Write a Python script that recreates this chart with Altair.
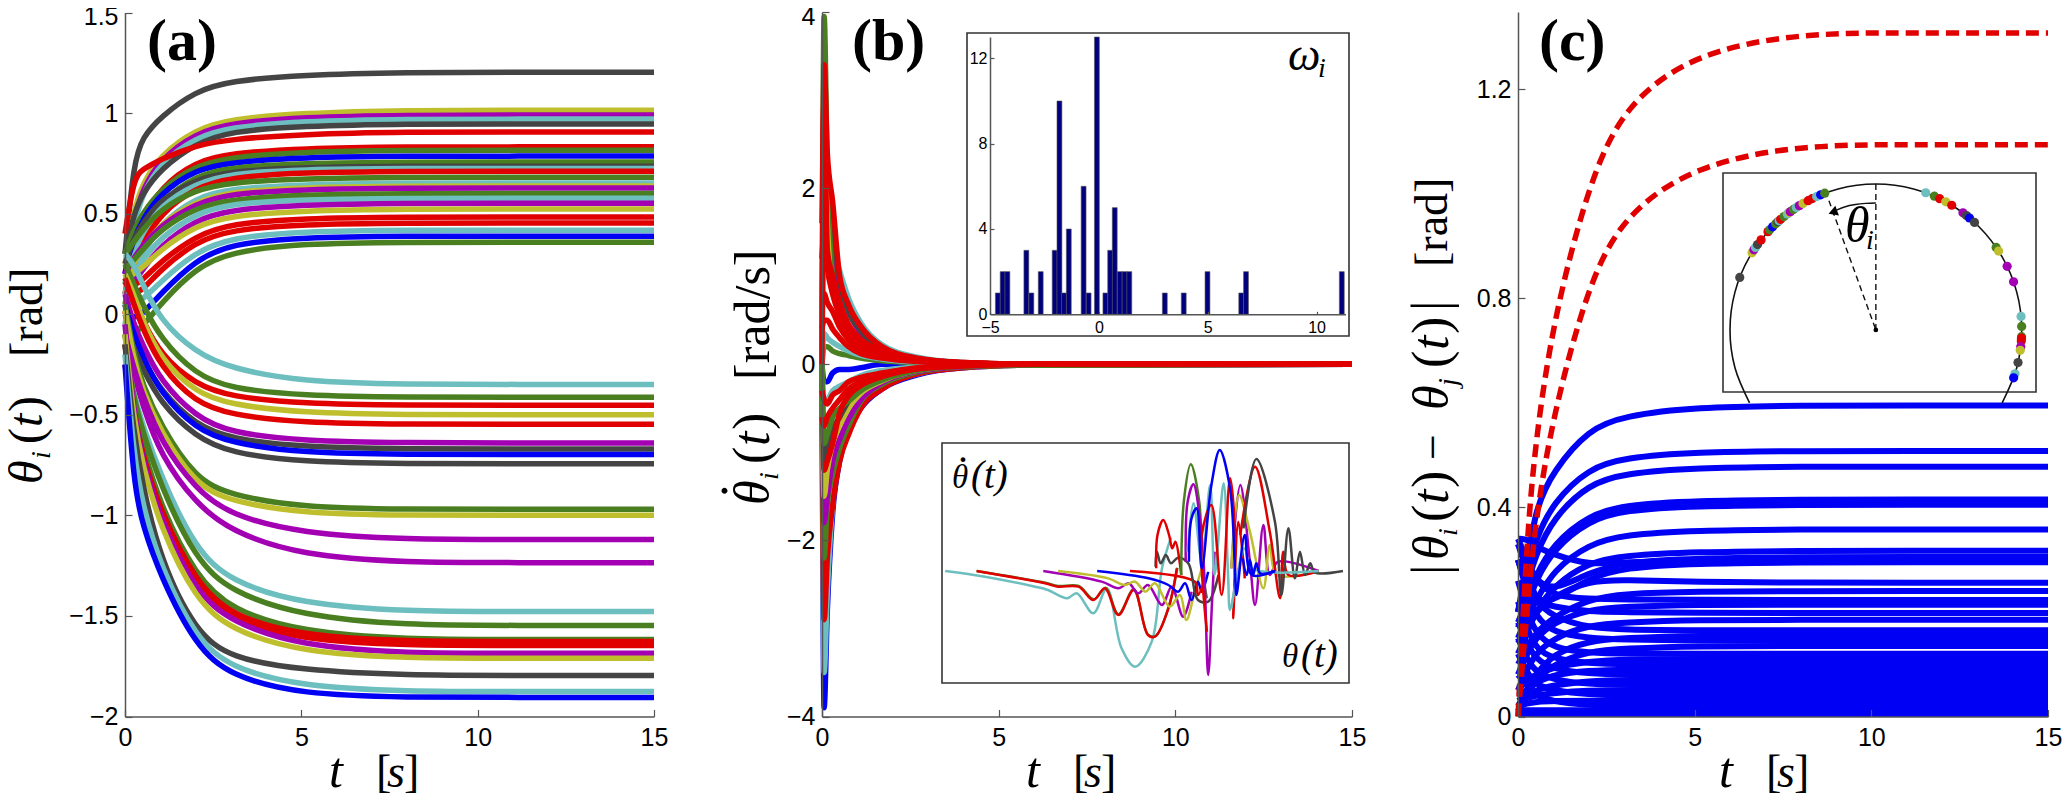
import altair as alt
import numpy as np
import pandas as pd

W, H, M = 2056, 792, 8
SANS, SERIF = "Liberation Sans", "Liberation Serif"
COLORS = {"b": "#0000F5", "g": "#4A7F21", "r": "#E00000", "t": "#6CBEBF",
          "p": "#A300B4", "o": "#BFBF2E", "k": "#444444"}
CDOM, CRNG = list(COLORS), list(COLORS.values())

# ---------- panel (a): theta_i(t); the last value is the settled one (from about t = 8)
T_A = [0, .25, .5, 1, 2, 3, 5, 8, 11, 15]
A_COL = list("koptkrrgbgktrgtopgtporrtbg" "tgrorpkbkgoppt" "ggrrpokt" "b")
A_ROWS = [
 [.30,.76,.88,.98,1.11,1.16,1.19,1.203],
 [.25,.52,.65,.79,.92,.97,1.0,1.014],
 [.2,.48,.62,.77,.90,.95,.98,.99],
 [.15,.45,.6,.75,.88,.93,.96,.97],
 [.3,.5,.6,.72,.85,.91,.935,.946],
 [.4,.68,.72,.77,.84,.87,.895,.906],
 [.1,.35,.47,.63,.76,.8,.825,.832],
 [.3,.42,.5,.62,.74,.78,.808,.815],
 [.2,.38,.47,.6,.72,.755,.78,.786],
 [.05,.28,.4,.56,.69,.73,.75,.757],
 [.25,.38,.45,.57,.67,.71,.73,.736],
 [.1,.3,.4,.54,.65,.7,.72,.725],
 [0,.22,.35,.5,.63,.68,.705,.711],
 [.3,.36,.42,.52,.62,.655,.675,.681],
 [-.05,.18,.3,.45,.58,.625,.645,.652],
 [.15,.26,.33,.45,.56,.61,.63,.637],
 [.2,.28,.34,.44,.55,.6,.62,.627],
 [.22,.27,.32,.42,.53,.57,.595,.6],
 [.1,.2,.27,.38,.5,.55,.57,.577],
 [.08,.16,.22,.34,.47,.52,.545,.552],
 [.18,.2,.23,.32,.44,.49,.515,.523],
 [.15,.14,.17,.26,.39,.45,.477,.483],
 [.12,.1,.12,.22,.36,.42,.447,.453],
 [.1,.06,.07,.16,.31,.38,.412,.418],
 [0,-.02,.0,.1,.27,.35,.382,.388],
 [-.13,-.1,-.06,.05,.23,.31,.352,.358],
 [.3,.25,.15,-.03,-.19,-.27,-.335,-.349],
 [.25,.15,.05,-.12,-.3,-.37,-.405,-.413],
 [.16,.08,-.03,-.2,-.35,-.41,-.445,-.453],
 [.2,.1,-.03,-.22,-.39,-.45,-.49,-.5],
 [.18,.05,-.07,-.26,-.44,-.5,-.54,-.547],
 [.1,-.05,-.15,-.33,-.51,-.59,-.63,-.64],
 [.0,-.12,-.22,-.38,-.55,-.62,-.66,-.67],
 [.05,-.1,-.21,-.39,-.57,-.64,-.69,-.697],
 [-.05,-.17,-.27,-.44,-.61,-.69,-.735,-.743],
 [.05,-.2,-.35,-.55,-.82,-.9,-.96,-.97],
 [.02,-.23,-.38,-.58,-.85,-.93,-.99,-1.0],
 [-.1,-.27,-.4,-.63,-.87,-1.0,-1.09,-1.12],
 [-.1,-.3,-.45,-.7,-.94,-1.08,-1.2,-1.235],
 [-.2,-.4,-.55,-.8,-1.17,-1.33,-1.44,-1.478],
 [-.15,-.42,-.58,-.85,-1.22,-1.38,-1.5,-1.547],
 [-.1,-.47,-.66,-.95,-1.3,-1.47,-1.58,-1.617],
 [-.15,-.5,-.7,-.98,-1.33,-1.5,-1.6,-1.627],
 [-.25,-.55,-.74,-1.02,-1.36,-1.52,-1.62,-1.647],
 [-.05,-.5,-.72,-1.02,-1.38,-1.53,-1.65,-1.686],
 [-.1,-.53,-.75,-1.06,-1.42,-1.57,-1.68,-1.711],
 [-.15,-.6,-.85,-1.22,-1.58,-1.71,-1.77,-1.796],
 [-.2,-.7,-.95,-1.25,-1.61,-1.76,-1.85,-1.876],
 [-.25,-.85,-1.05,-1.3,-1.65,-1.8,-1.89,-1.905],
]

# ---------- panel (b): theta-dot_i(t)
T_B = [0,.06,.15,.3,.5,.75,1.1,1.7,2.7,4,6,15]
B_COL = list("tpkgobtrgpokbtgtgrrrrrrrr")
B_ROWS = [
 [0,2.2,1.8,1.35,1.06,.75,.47,.22,.08,.02,0,0],
 [0,2.9,1.9,1.2,.9,.6,.35,.16,.06,.015,0,0],
 [0,2.5,2.0,1.6,.95,.6,.38,.17,.06,.015,0,0],
 [0,3.95,2.2,1.0,.6,.42,.26,.12,.04,.01,0,0],
 [0,2.6,1.6,.8,.6,.4,.25,.12,.04,.01,0,0],
 [0,-3.9,-2.8,-1.7,-1.1,-.75,-.5,-.28,-.12,-.04,-.01,0],
 [0,-3.5,-2.6,-1.6,-1.05,-.72,-.47,-.26,-.11,-.03,-.01,0],
 [0,-2.9,-2.2,-1.6,-1.1,-.8,-.5,-.28,-.11,-.04,-.01,0],
 [0,-2.2,-1.6,-1.25,-.95,-.7,-.42,-.23,-.09,-.03,-.01,0],
 [0,-1.8,-1.5,-1.1,-.85,-.62,-.4,-.21,-.08,-.025,0,0],
 [0,-1.5,-1.2,-.9,-.7,-.5,-.33,-.19,-.07,-.02,0,0],
 [0,-1.2,-1.0,-.75,-.6,-.42,-.28,-.17,-.06,-.02,0,0],
 [0,-.2,-.2,-.1,-.06,-.06,-.04,.0,.0,0,0,0],
 [0,-.4,-.4,-.3,-.25,-.2,-.13,-.07,-.03,-.01,0,0],
 [0,.2,.2,.15,.12,.1,.07,.04,.02,.005,0,0],
 [0,.35,.3,.25,.2,.15,.1,.06,.025,.01,0,0],
 [0,-.9,-.8,-.6,-.5,-.42,-.3,-.18,-.07,-.02,0,0],
 [0,3.4,2.4,1.85,1.0,.68,.43,.2,.07,.02,0,0],
 [1.6,3.0,1.3,1.0,.7,.45,.28,.16,.06,.02,0,0],
 [1.2,1.5,1.1,.8,.55,.36,.22,.13,.05,.015,0,0],
 [-1.2,-1.2,-1.1,-.9,-.55,-.36,-.24,-.14,-.05,-.02,0,0],
 [.8,.8,.7,.6,.42,.28,.17,.1,.04,.012,0,0],
 [-.6,-.7,-.6,-.5,-.4,-.28,-.2,-.13,-.05,-.015,0,0],
 [.4,.5,.5,.4,.3,.2,.12,.07,.03,.01,0,0],
 [-.3,-.4,-.45,-.35,-.3,-.2,-.15,-.1,-.04,-.01,0,0],
]

# histogram inset
HIST_OMEGA = [-4.64,-4.42,-4.2,-3.33,-3.1,-2.67,-2.03,-1.81,-1.6,-1.38,-.7,-.47,-.09,
              .3,.52,.73,.96,1.18,1.4,3.03,3.9,4.99,6.54,6.76,11.16]
HIST_COUNT = [1,2,2,3,1,2,3,10,1,4,6,1,13,1,3,5,2,2,2,1,1,2,1,2,2]
HIST_HALF = .112

# phase-portrait inset
PHASE = [
 ("t",[-1.9,-1.59,-1.2,-1.1,-.95,-.875,-.745,-.64,-.525,-.42,-.29,-.21,-.14],
      [0,-.17,-.47,-.57,-.82,-.67,-1.27,-.52,-2.32,-2.87,-2.12,.08,1.0]),
 ("g",[-1.655,-1.12,-1.02,-.86,-.74,-.65,-.55,-.43,-.32,-.26,-.16,-.09],
      [0,-.35,-.45,-.45,-.85,-.5,-1.3,-.55,-1.9,-1.95,-1.1,.1]),
 ("r",[-1.655,-1.12,-1.02,-.86,-.745,-.655,-.55,-.43,-.32,-.265,-.16,-.095],
      [0,-.37,-.47,-.47,-.87,-.52,-1.32,-.57,-1.92,-1.97,-1.12,.08]),
 ("p",[-1.135,-.68,-.55,-.47,-.395,-.32,-.21,-.135,-.045,.02],
      [0,-.32,-.52,-.37,-.67,-.42,-1.02,-.47,-1.37,-.62]),
 ("o",[-1.02,-.63,-.5,-.42,-.34,-.265,-.15,-.07,-.02,.045,.1],
      [0,-.22,-.42,-.32,-.62,-.37,-1.07,-.72,-1.47,-.62,.08]),
 ("b",[-.715,-.315,-.16,-.085,-.03,.02,.07,.1,.15],
      [0,-.22,-.42,-.62,-.37,-.87,-.32,-.62,-.02]),
 ("r",[-.46,.045,.07,.125],[0,-.32,-.72,-.22]),
 ("k",[-.26,-.25,-.22,-.18,-.14,-.085,-.005,.07,.15,.23],
      [.13,.58,.23,.48,.23,.4,.23,-.87,-.92,-.12]),
 ("r",[-.255,-.245,-.2,-.155,-.13,-.105,-.06],[.08,1.08,1.53,1.08,.68,.88,-.12]),
 ("g",[-.06,-.04,.015,.08,.11,.14],[-.12,2.08,3.2,2.08,-.12,-.82]),
 ("p",[-.025,-.01,.035,.085,.12,.15,.18,.2],[.28,2.08,2.6,1.58,-.12,-3.12,-.92,.58]),
 ("t",[-.01,.035,.1,.165,.2,.27,.305,.32,.385],[.58,2.03,.28,2.58,-.12,2.63,-.12,-1.17,.08]),
 ("p",[.33,.4,.475,.515,.58,.63,.695,1.01],[.08,2.58,.28,-1.02,1.38,-.12,.28,0]),
 ("o",[.33,.39,.475,.58,.63,.685,1.01],[.08,2.28,1.18,-.52,.78,-.12,0]),
 ("r",[.14,.1,.175,.255,.32,.36,.345,.385,.435],[-1.82,1.08,1.98,-.72,2.78,1.08,-1.42,1.48,-.22]),
 ("r",[.4,.515,.63,.71,.735,.775,1.01],[1.08,3.13,1.18,-.82,.58,-.12,0]),
 ("k",[.425,.525,.67,.72,.775,.825,.865,.905,.945,.98,1.2],
      [1.28,3.36,1.48,-.72,1.28,-.22,.58,-.12,.23,-.04,0]),
 ("t",[.33,.435,.49,1.01],[-1.12,.68,.08,0]),
 ("b",[0,.02,.06,.1,.175,.24,.32,.36,.37,.435,.49,.67],
      [.28,1.58,1.88,.08,2.58,3.63,2.48,-.12,-.72,1.08,-.12,0]),
 ("b",[.42,.45,.475,.5,.525,.555,.67],[.38,-.12,.33,-.12,.23,-.07,0]),
]

# ---------- panel (c): |theta_i - theta_j|; the last value is the settled one
T_C = [0, .25, .5, 1, 2, 3, 5, 8, 11, 15]
C_RED = [
 [.0,.34,.53,.76,1.02,1.17,1.27,1.308],
 [.0,.2,.38,.58,.83,.96,1.055,1.094],
]
C_BLUE = [
 [.2,.29,.40,.47,.55,.575,.592,.595],
 [.2,.27,.34,.41,.475,.495,.506,.508],
 [.2,.25,.31,.38,.445,.465,.476,.478],
 [.18,.22,.27,.33,.385,.405,.413,.415],
 [.17,.21,.26,.32,.375,.395,.403,.405],
 [.15,.19,.22,.28,.33,.348,.356,.358],
 [.12,.16,.2,.25,.295,.308,.315,.317],
 [.34,.34,.325,.31,.29,.295,.30,.30],
 [.34,.3,.26,.24,.275,.295,.303,.305],
 [.3,.26,.22,.22,.265,.285,.293,.295],
 [.14,.17,.2,.23,.26,.262,.257,.256],
 [.1,.13,.16,.19,.225,.235,.239,.24],
 [.33,.3,.26,.23,.225,.224,.223,.223],
 [.08,.12,.15,.18,.205,.21,.214,.214],
 [.3,.25,.22,.21,.2,.2,.198,.198],
 [.05,.09,.12,.15,.175,.18,.185,.185],
 [.33,.28,.22,.19,.17,.166,.165,.165],
 [.02,.05,.08,.12,.145,.15,.155,.155],
 [.3,.24,.19,.16,.15,.147,.145,.145],
 [.01,.04,.07,.1,.125,.13,.135,.135],
 [.26,.2,.16,.13,.122,.12,.12,.12],
 [.05,.07,.08,.095,.105,.11,.11,.11],
 [.22,.17,.13,.11,.102,.1,.1,.1],
 [.04,.05,.065,.08,.088,.09,.09,.09],
 [.18,.14,.11,.09,.082,.08,.08,.08],
 [.03,.04,.05,.06,.068,.07,.07,.07],
 [.15,.11,.085,.07,.062,.06,.06,.06],
 [.03,.035,.04,.045,.05,.05,.05,.05],
 [.12,.085,.06,.05,.042,.04,.04,.04],
 [.02,.025,.028,.03,.03,.03,.03,.03],
 [.08,.06,.04,.028,.022,.02,.02,.02],
 [.012,.012,.012,.012,.012,.012,.012,.012],
 [.005,.005,.005,.005,.005,.005,.005,.005],
]

# circle inset: unit-circle outline (15 degree stops) and the guide lines
CIRC_X = [-.866,-.966,-1,-.966,-.866,-.707,-.5,-.259,0,.259,.5,.707,.866,.966,1,.966,.866]
CIRC_Y = [-.5,-.259,0,.259,.5,.707,.866,.966,1,.966,.866,.707,.5,.259,0,-.259,-.5]
ARC_X = [0,-.07,-.14,-.21,-.27]
ARC_Y = [.87,.867,.859,.844,.82]


def px(v):
    return v - M


def settled(rows):
    return [r + [r[-1], r[-1]] for r in rows]


def long_table(ts, rows, cols):
    out = []
    for i, (r, c) in enumerate(zip(rows, cols)):
        out += [{"id": i, "c": c, "t": a, "v": b, "o": k} for k, (a, b) in enumerate(zip(ts, r))]
    return pd.DataFrame(out)


def sx(dom, a, b):
    return alt.Scale(domain=dom, range=[px(a), px(b)], nice=False, zero=False)


def y_axis(x0, ticks, size=25, tick=7, gap=7, top=None, fmt=".1~f"):
    shift = {"condition": {"test": f"datum.value == {top}", "value": 4}, "value": 0} if top is not None else 0
    return alt.Axis(orient="right", offset=px(x0) - W, values=ticks, title=None, grid=False,
                    tickSize=tick, labelAlign="right", labelBaseline="middle",
                    labelPadding=-(tick + gap), labelFontSize=size, labelFont=SANS,
                    labelColor="#000000", domainColor="#555555", tickColor="#555555",
                    domainWidth=1.5, tickWidth=1.2, format=fmt, labelOverlap=False,
                    labelBound=False, labelFlush=False, labelOffset=shift, zindex=1)


def x_axis(y0, ticks, size=25, tick=7, gap=21, fmt=".1~f"):
    return alt.Axis(orient="top", offset=-px(y0), values=ticks, title=None, grid=False,
                    tickSize=tick, labelAlign="center", labelBaseline="middle",
                    labelPadding=-(tick + gap), labelFontSize=size, labelFont=SANS,
                    labelColor="#000000", domainColor="#555555", tickColor="#555555",
                    domainWidth=1.5, tickWidth=1.2, format=fmt, labelOverlap=False,
                    labelBound=False, labelFlush=False, zindex=1)


CSCALE = alt.Scale(domain=CDOM, range=CRNG)
ONE = pd.DataFrame({"a": [0]})


def lines(df, xs, ys, xa=None, ya=None, width=5.5, curve="basis", **kw):
    return alt.Chart(df).mark_line(strokeWidth=width, interpolate=curve, **kw).encode(
        x=alt.X("t:Q", scale=xs, axis=xa),
        y=alt.Y("v:Q", scale=ys, axis=ya),
        detail="id:N", order="o:Q",
        color=alt.Color("c:N", scale=CSCALE, legend=None))


def text(s, x, y, size, font=SERIF, style="normal", weight="normal", angle=0):
    return alt.Chart(ONE).mark_text(text=s, font=font, fontSize=size, fontStyle=style,
                                    fontWeight=weight, angle=angle, align="left",
                                    baseline="alphabetic", color="#000000").encode(
        x=alt.value(px(x)), y=alt.value(px(y)))


def box(x0, y0, x1, y1):
    return alt.Chart(ONE).mark_rect(fill="#FFFFFF", stroke="#333333", strokeWidth=1.6).encode(
        x=alt.value(px(x0)), x2=alt.value(px(x1)), y=alt.value(px(y0)), y2=alt.value(px(y1)))


layers = []
TICKS_T = [0, 5, 10, 15]

# panel a
ax, ay = sx([0, 15], 125, 654), sx([-2, 1.5], 716.5, 12.5)
layers.append(lines(long_table(T_A, settled(A_ROWS), A_COL), ax, ay,
                    x_axis(716.5, TICKS_T), y_axis(125, [-2, -1.5, -1, -.5, 0, .5, 1, 1.5], top=1.5)))

# panel b
bx, by = sx([0, 15], 822, 1352), sx([-4, 4], 716.5, 12)
layers.append(lines(long_table(T_B, B_ROWS, B_COL), bx, by,
                    x_axis(716.5, TICKS_T), y_axis(822, [-4, -2, 0, 2, 4], top=4), curve="monotone"))
layers.append(box(967, 33, 1349, 336))
hist = pd.DataFrame({"lo": [w - HIST_HALF for w in HIST_OMEGA],
                     "hi": [w + HIST_HALF for w in HIST_OMEGA], "n": HIST_COUNT,
                     "base": [0] * len(HIST_COUNT)})
layers.append(alt.Chart(hist).mark_rect(color="#00007F", stroke="#555555", strokeWidth=.6).encode(
    x=alt.X("lo:Q", scale=sx([-5, 11.33], 990, 1345.5),
            axis=x_axis(314.3, [-5, 0, 5, 10], size=16, tick=3, gap=13, fmt=".0f")),
    x2="hi:Q",
    y=alt.Y("n:Q", scale=sx([0, 13], 314.3, 37),
            axis=y_axis(990, [0, 4, 8, 12], size=16, tick=4, gap=3, fmt=".0f")),
    y2="base:Q"))
layers.append(box(942, 443, 1349, 683))
ph = []
for i, (c, xs_, ys_) in enumerate(PHASE):
    ph += [{"id": i, "c": c, "t": a, "v": b, "o": k} for k, (a, b) in enumerate(zip(xs_, ys_))]
layers.append(alt.Chart(pd.DataFrame(ph)).mark_line(strokeWidth=2.5, interpolate="catmull-rom").encode(
    x=alt.X("t:Q", scale=sx([-1.979, 1.294], 935, 1355), axis=None),
    y=alt.Y("v:Q", scale=sx([-3.72, 4.08], 695, 435), axis=None),
    detail="id:N", order="o:Q", color=alt.Color("c:N", scale=CSCALE, legend=None)))

# panel c
cx, cy = sx([0, 15], 1518, 2048), sx([0, 1.348], 716.5, 12)
layers.append(lines(long_table(T_C, settled(C_BLUE), ["b"] * len(C_BLUE)), cx, cy,
                    x_axis(716.5, TICKS_T), y_axis(1518, [0, .4, .8, 1.2]), width=6))
layers.append(lines(long_table(T_C, settled(C_RED), ["r"] * len(C_RED)), cx, cy, None, None,
                    strokeDash=[13, 7]))

# circle inset
layers.append(box(1723, 173, 2036, 392))
cix, ciy = sx([-1.048, 1.098], 1723, 2036), sx([-.425, 1.075], 392, 173)
final = np.array([r[-1] for r in A_ROWS])
dots = pd.DataFrame({"x": -np.sin(final), "y": np.cos(final), "c": A_COL, "o": range(len(A_COL))})
circ = pd.DataFrame({"x": CIRC_X, "y": CIRC_Y, "o": range(len(CIRC_X))})
layers.append(alt.Chart(circ).mark_line(color="#111111", strokeWidth=1.6, interpolate="catmull-rom", clip=True).encode(
    x=alt.X("x:Q", scale=cix, axis=None), y=alt.Y("y:Q", scale=ciy, axis=None), order="o:Q"))
for xs_, ys_ in (([0, 0], [0, 1]), ([0, -.345], [0, .95])):
    layers.append(alt.Chart(pd.DataFrame({"x": xs_, "y": ys_})).mark_line(
        color="#111111", strokeWidth=1.4, strokeDash=[6, 4]).encode(
        x=alt.X("x:Q", scale=cix, axis=None), y=alt.Y("y:Q", scale=ciy, axis=None)))
layers.append(alt.Chart(pd.DataFrame({"x": ARC_X, "y": ARC_Y, "o": range(len(ARC_X))})).mark_line(
    color="#111111", strokeWidth=1.4, interpolate="monotone").encode(
    x=alt.X("x:Q", scale=cix, axis=None), y=alt.Y("y:Q", scale=ciy, axis=None), order="o:Q"))
layers.append(alt.Chart(pd.DataFrame({"x": [-.285], "y": [.81]})).mark_point(
    shape="triangle", filled=True, color="#000000", size=110, angle=250, opacity=1).encode(
    x=alt.X("x:Q", scale=cix, axis=None), y=alt.Y("y:Q", scale=ciy, axis=None)))
layers.append(alt.Chart(pd.DataFrame({"x": [0], "y": [0]})).mark_circle(color="#000000", size=22, opacity=1).encode(
    x=alt.X("x:Q", scale=cix, axis=None), y=alt.Y("y:Q", scale=ciy, axis=None)))
layers.append(alt.Chart(dots).mark_circle(size=85, opacity=1).encode(
    x=alt.X("x:Q", scale=cix, axis=None), y=alt.Y("y:Q", scale=ciy, axis=None), order="o:Q",
    color=alt.Color("c:N", scale=CSCALE, legend=None)))

# text
IT = "italic"
layers += [
    text("(a)", 147, 60, 60, weight="bold"),
    text("(b)", 852, 60, 60, weight="bold"),
    text("(c)", 1539, 60, 60, weight="bold"),
]
# x titles
for dx in (0, 697, 1390):
    layers += [text("t", 329 + dx, 787, 50, style=IT),
               text("[", 376 + dx, 787, 46), text("s", 387 + dx, 787, 46, style=IT),
               text("]", 404 + dx, 787, 46)]
# y title a
layers += [text("θ", 42, 484, 48, style=IT, angle=270), text("i", 50, 459, 28, style=IT, angle=270),
           text("(", 42, 444, 48, angle=270), text("t", 42, 427, 48, style=IT, angle=270),
           text(")", 42, 412, 48, angle=270), text("[rad]", 42, 357, 46, angle=270)]
# y title b
layers += [text("θ", 769, 505, 50, style=IT, angle=270), text(".", 727, 497, 50, angle=270),
           text("i", 778, 480, 28, style=IT, angle=270),
           text("(", 769, 464, 52, angle=270), text("t", 769, 446, 52, style=IT, angle=270),
           text(")", 769, 430, 52, angle=270), text("[rad/s]", 769, 380, 50, angle=270)]
# y title c
layers += [text("|", 1448, 575, 52, angle=270),
           text("θ", 1448, 560, 50, style=IT, angle=270), text("i", 1457, 536, 28, style=IT, angle=270),
           text("(", 1448, 522, 52, angle=270), text("t", 1448, 504, 52, style=IT, angle=270),
           text(")", 1448, 488, 52, angle=270), text("−", 1448, 460, 46, angle=270),
           text("θ", 1448, 410, 50, style=IT, angle=270), text("j", 1457, 386, 28, style=IT, angle=270),
           text("(", 1448, 368, 52, angle=270), text("t", 1448, 350, 52, style=IT, angle=270),
           text(")", 1448, 334, 52, angle=270), text("|", 1448, 311, 52, angle=270),
           text("[rad]", 1447, 267, 46, angle=270)]
# inset labels
layers += [text("ω", 1288, 70, 46, style=IT), text("i", 1318, 77, 28, style=IT),
           text("θ", 952, 488, 33, style=IT), text(".", 958, 462, 40), text("(t)", 971, 488, 39, style=IT),
           text("θ", 1282, 667, 33, style=IT), text("(t)", 1301, 667, 39, style=IT),
           text("θ", 1845, 242, 50, style=IT), text("i", 1866, 249, 28, style=IT)]

chart = alt.layer(*layers).resolve_scale(x="independent", y="independent").properties(
    width=W, height=H, padding=0, autosize=alt.AutoSizeParams(type="none"))
chart = chart.configure_view(stroke=None)
chart.save("out.html", embed_options={"renderer": "svg", "actions": False})
